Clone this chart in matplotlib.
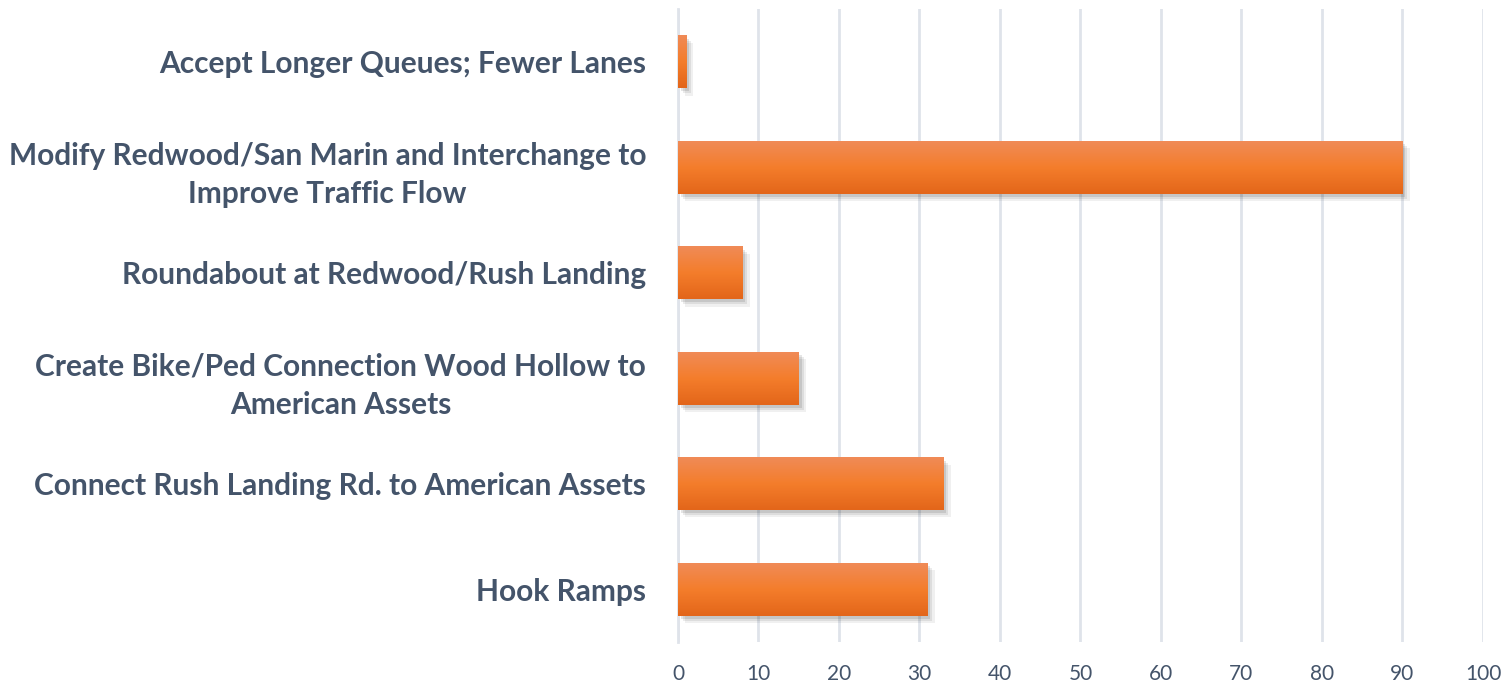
import numpy as np
import matplotlib.pyplot as plt
from matplotlib.colors import LinearSegmentedColormap

# data (bottom to top)
categories = [
    "Hook Ramps",
    "Connect Rush Landing Rd. to American Assets",
    "Create Bike/Ped Connection Wood Hollow to\nAmerican Assets",
    "Roundabout at Redwood/Rush Landing",
    "Modify Redwood/San Marin and Interchange to\nImprove Traffic Flow",
    "Accept Longer Queues; Fewer Lanes",
]
values = [31, 33, 15, 8, 90, 1]
ticks = [0, 10, 20, 30, 40, 50, 60, 70, 80, 90, 100]

text_color = "#44546A"
grid_color = "#DFE3EA"

plt.rcParams['font.family'] = ['Lato', 'DejaVu Sans']

fig = plt.figure(figsize=(15.06, 6.82), dpi=100)
ax = fig.add_axes([0.4502, 0.0587, 0.5345, 0.928])

y = np.arange(len(categories))
h = 0.5

# soft shadow, a few stacked layers
for dx, dy, a in [(0.9, 0.07, 0.06), (0.6, 0.05, 0.08), (0.35, 0.03, 0.1)]:
    ax.barh(y - dy, values, height=h, left=dx, color="black", alpha=a,
            zorder=2, edgecolor="none")
bars = ax.barh(y, values, height=h, color="#F47F2A", zorder=3, edgecolor="none")

# vertical gradient on each bar
grad_cmap = LinearSegmentedColormap.from_list(
    "og", ["#E3661A", "#F47D2B", "#F08B57"])
grad = np.linspace(0, 1, 64).reshape(-1, 1)
for b in bars:
    x0, y0 = b.get_x(), b.get_y()
    w, hh = b.get_width(), b.get_height()
    im = ax.imshow(grad, cmap=grad_cmap, aspect="auto", origin="lower",
                   extent=(x0, x0 + w, y0, y0 + hh), zorder=4)
    im.set_clip_path(b)

ax.set_xlim(0, 100)
ax.set_ylim(-0.5, len(categories) - 0.5)
ax.set_xticks(ticks)
ax.set_xticklabels([str(t) for t in ticks], fontsize=15, color=text_color)
ax.set_yticks(y)
ax.set_yticklabels(categories, fontsize=21.5, fontweight="bold",
                   color=text_color, multialignment="center", linespacing=1.45)
ax.tick_params(axis="y", length=0, pad=23)
ax.tick_params(axis="x", length=0, pad=16)

ax.grid(axis="x", color=grid_color, linewidth=2, zorder=0)
ax.set_axisbelow(True)
for s in ["top", "right", "bottom"]:
    ax.spines[s].set_visible(False)
ax.spines["left"].set_color(grid_color)
ax.spines["left"].set_linewidth(2)

fig.savefig("out.png", dpi=100)
